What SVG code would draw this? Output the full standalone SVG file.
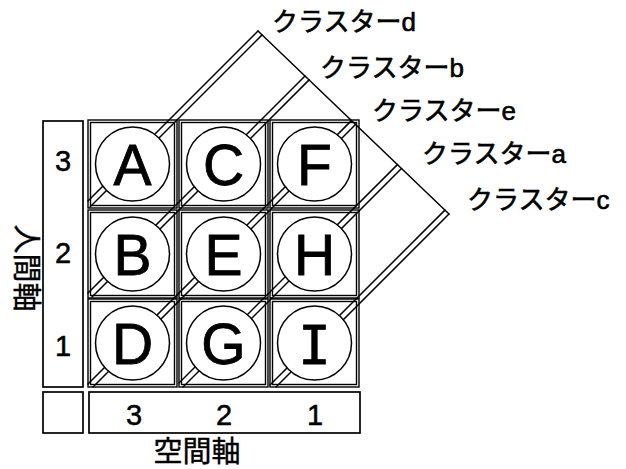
<svg xmlns="http://www.w3.org/2000/svg" width="626" height="469" viewBox="0 0 626 469">
<style>
.ln{stroke:#000;stroke-width:1.5;fill:none;stroke-linecap:round}
.box{stroke:#000;stroke-width:1.7;fill:none}
.cell{stroke:#000;stroke-width:1.4;fill:none}
.circ{stroke:#000;stroke-width:1.5;fill:#fff}
.let{font-family:"Liberation Sans",Arial,sans-serif;font-size:57px;text-anchor:middle;fill:#000;stroke:#000;stroke-width:0.8}
.num{font-family:"Liberation Sans",Arial,sans-serif;font-size:29px;text-anchor:middle;fill:#000;stroke:#000;stroke-width:0.5}
.cl{font-family:"Liberation Sans","Noto Sans CJK JP",sans-serif;font-size:26px;fill:#000;stroke:#000;stroke-width:0.6}
.ax{font-family:"Noto Sans CJK JP",sans-serif;font-size:29px;fill:#000;text-anchor:middle;stroke:#000;stroke-width:0.4}
</style>
<rect width="626" height="469" fill="#fff"/>
<g id="connectors">
  <line class="ln" x1="88" y1="201" x2="258" y2="31"/>
  <line class="ln" x1="90" y1="207" x2="262.1" y2="34.9"/>
  <line class="ln" x1="88" y1="293" x2="305" y2="76"/>
  <line class="ln" x1="92" y1="297" x2="309.1" y2="79.9"/>
  <line class="ln" x1="88" y1="384" x2="351.4" y2="120.6"/>
  <line class="ln" x1="93" y1="387" x2="355.5" y2="124.5"/>
  <line class="ln" x1="179" y1="383" x2="397.4" y2="164.6"/>
  <line class="ln" x1="183" y1="387" x2="401.5" y2="168.5"/>
  <line class="ln" x1="270" y1="385" x2="444.9" y2="210.1"/>
  <line class="ln" x1="276" y1="387" x2="449" y2="214"/>
  <line class="ln" x1="258" y1="31" x2="449" y2="214"/>
</g>
<g id="cell-A"><circle class="circ" cx="132.5" cy="164" r="37"/><rect class="cell" x="88" y="120" width="89" height="88"/><rect class="cell" x="90.5" y="122.5" width="84" height="83"/><text class="let" x="132.5" y="184.5">A</text></g>
<g id="cell-C"><circle class="circ" cx="223.5" cy="164" r="37"/><rect class="cell" x="179" y="120" width="89" height="88"/><rect class="cell" x="181.5" y="122.5" width="84" height="83"/><text class="let" x="223.5" y="184.5">C</text></g>
<g id="cell-F"><circle class="circ" cx="314.5" cy="164" r="37"/><rect class="cell" x="270" y="120" width="89" height="88"/><rect class="cell" x="272.5" y="122.5" width="84" height="83"/><text class="let" x="314.5" y="184.5">F</text></g>
<g id="cell-B"><circle class="circ" cx="132.5" cy="254" r="37"/><rect class="cell" x="88" y="210" width="89" height="88"/><rect class="cell" x="90.5" y="212.5" width="84" height="83"/><text class="let" x="132.5" y="274.5">B</text></g>
<g id="cell-E"><circle class="circ" cx="223.5" cy="254" r="37"/><rect class="cell" x="179" y="210" width="89" height="88"/><rect class="cell" x="181.5" y="212.5" width="84" height="83"/><text class="let" x="223.5" y="274.5">E</text></g>
<g id="cell-H"><circle class="circ" cx="314.5" cy="254" r="37"/><rect class="cell" x="270" y="210" width="89" height="88"/><rect class="cell" x="272.5" y="212.5" width="84" height="83"/><text class="let" x="314.5" y="274.5">H</text></g>
<g id="cell-D"><circle class="circ" cx="132.5" cy="343" r="37"/><rect class="cell" x="88" y="299" width="89" height="88"/><rect class="cell" x="90.5" y="301.5" width="84" height="83"/><text class="let" x="132.5" y="363.5">D</text></g>
<g id="cell-G"><circle class="circ" cx="223.5" cy="343" r="37"/><rect class="cell" x="179" y="299" width="89" height="88"/><rect class="cell" x="181.5" y="301.5" width="84" height="83"/><text class="let" x="223.5" y="363.5">G</text></g>
<g id="cell-I"><circle class="circ" cx="314.5" cy="343" r="37"/><rect class="cell" x="270" y="299" width="89" height="88"/><rect class="cell" x="272.5" y="301.5" width="84" height="83"/><text class="let" x="314.5" y="363.5" style="font-family:'DejaVu Sans Mono',monospace;font-size:54px">I</text></g>
<g id="time-axis">
  <rect class="box" x="43" y="121" width="40" height="266"/>
  <text class="num" x="63" y="171">3</text>
  <text class="num" x="63" y="263">2</text>
  <text class="num" x="63" y="356">1</text>
  <text class="ax" transform="translate(27,268) rotate(90)" x="0" y="11">人間軸</text>
</g>
<g id="space-axis">
  <rect class="box" x="43" y="392" width="40" height="41"/>
  <rect class="box" x="89" y="392" width="271" height="41"/>
  <text class="num" x="134" y="425">3</text>
  <text class="num" x="224" y="425">2</text>
  <text class="num" x="315" y="425">1</text>
  <text class="ax" x="197" y="462">空間軸</text>
</g>
<g id="labels">
  <text class="cl" x="272" y="31">クラスターd</text>
  <text class="cl" x="320" y="77">クラスターb</text>
  <text class="cl" x="372" y="120">クラスターe</text>
  <text class="cl" x="422" y="163">クラスターa</text>
  <text class="cl" x="467" y="209">クラスターc</text>
</g>
</svg>
